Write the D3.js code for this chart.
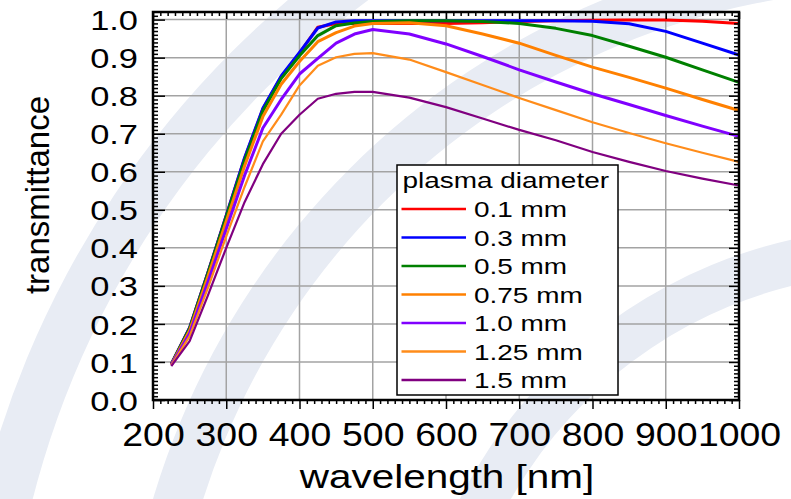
<!DOCTYPE html>
<html>
<head>
<meta charset="utf-8">
<script src="https://cdn.jsdelivr.net/npm/d3@7"></script>
<style>
  body { margin: 0; background: #fff; }
  svg { display: block; font-family: "Liberation Sans", Arial, sans-serif; }
</style>
</head>
<body>
<div id="chart"></div>
<script>
// data
const wavelength = [225, 250, 275, 300, 325, 350, 375, 400, 425, 450, 475, 500, 550, 600, 650, 700, 750, 800, 850, 900, 950, 1000];
const d01  = [0.095, 0.19, 0.335, 0.485, 0.635, 0.765, 0.85, 0.912, 0.98, 0.99, 0.99, 0.99, 0.99, 0.99, 0.992, 0.995, 0.997, 0.998, 0.999, 0.999, 0.996, 0.99];
const d03  = [0.095, 0.19, 0.335, 0.485, 0.637, 0.767, 0.852, 0.914, 0.978, 0.994, 0.997, 0.997, 0.997, 0.997, 0.997, 0.997, 0.997, 0.996, 0.989, 0.969, 0.938, 0.907];
const d05  = [0.094, 0.188, 0.333, 0.482, 0.63, 0.76, 0.845, 0.905, 0.958, 0.984, 0.991, 0.995, 0.997, 0.997, 0.995, 0.99, 0.977, 0.958, 0.93, 0.901, 0.868, 0.835];
const d075 = [0.093, 0.183, 0.325, 0.47, 0.615, 0.745, 0.83, 0.89, 0.942, 0.966, 0.983, 0.99, 0.992, 0.984, 0.962, 0.938, 0.906, 0.875, 0.848, 0.82, 0.79, 0.761];
const d10  = [0.092, 0.175, 0.31, 0.45, 0.59, 0.715, 0.79, 0.857, 0.898, 0.938, 0.962, 0.974, 0.962, 0.936, 0.903, 0.868, 0.836, 0.805, 0.777, 0.748, 0.72, 0.693];
const d125 = [0.091, 0.168, 0.295, 0.43, 0.56, 0.68, 0.75, 0.827, 0.879, 0.901, 0.91, 0.912, 0.895, 0.862, 0.828, 0.794, 0.762, 0.73, 0.702, 0.675, 0.65, 0.626];
const d15  = [0.089, 0.155, 0.275, 0.4, 0.52, 0.62, 0.7, 0.75, 0.792, 0.805, 0.81, 0.81, 0.795, 0.77, 0.74, 0.71, 0.683, 0.652, 0.626, 0.602, 0.582, 0.564];

const seriesNames = ["0.1 mm", "0.3 mm", "0.5 mm", "0.75 mm", "1.0 mm", "1.25 mm", "1.5 mm"];
const seriesData = [d01, d03, d05, d075, d10, d125, d15];
const colors = ["#ff0000", "#0000ff", "#008000", "#ff8000", "#8000ff", "#ff8c1a", "#800080"];
const widths = [3, 3, 3, 3, 3, 2.2, 2.2];

const xTicks = [200, 300, 400, 500, 600, 700, 800, 900, 1000];
const yTicks = [0, 0.1, 0.2, 0.3, 0.4, 0.5, 0.6, 0.7, 0.8, 0.9, 1.0];

const W = 791, H = 499;
const margin = { top: 12, right: 52, bottom: 99, left: 153 };
const width = W - margin.left - margin.right;
const height = H - margin.top - margin.bottom;

const svgRoot = d3.select("#chart").append("svg")
    .attr("width", W)
    .attr("height", H);

// pale watermark arcs behind the chart
const wm = svgRoot.append("g").attr("transform", "translate(900,720)");
[[920, 50], [755, 48], [470, 45]].forEach(([r, w]) => {
    wm.append("path")
        .attr("d", d3.arc().innerRadius(r - w / 2).outerRadius(r + w / 2)
            .startAngle(-Math.PI / 2).endAngle(0)())
        .attr("fill", "#e8ecf4");
});

const svg = svgRoot.append("g")
    .attr("transform", `translate(${margin.left},${margin.top})`);

const x = d3.scaleLinear().domain([200, 1000]).range([0, width]);
const y = d3.scaleLinear().domain([0, 1.02]).range([height, 0]);

// grid
svg.append("g").selectAll("line").data(xTicks).join("line")
    .attr("x1", d => x(d)).attr("x2", d => x(d))
    .attr("y1", 0).attr("y2", height)
    .attr("stroke", "#a3a3a3").attr("stroke-width", 1.5);
svg.append("g").selectAll("line").data(yTicks).join("line")
    .attr("x1", 0).attr("x2", width)
    .attr("y1", d => y(d)).attr("y2", d => y(d))
    .attr("stroke", "#a3a3a3").attr("stroke-width", 1.5);

// curves
const line = d3.line()
    .x((d, i) => x(wavelength[i]))
    .y(d => y(d));

seriesData.forEach((s, k) => {
    svg.append("path")
        .datum(s)
        .attr("d", line)
        .attr("fill", "none")
        .attr("stroke", colors[k])
        .attr("stroke-width", widths[k])
        .attr("stroke-linejoin", "round");
});

// ticks
const xMinor = d3.range(200, 1001, 10).filter(v => v % 100 !== 0);
const yMinor = d3.range(0, 102, 1).map(v => v / 100).filter(v => Math.round(v * 100) % 10 !== 0);

function tickAxis(axis, tr) {
    const g = svg.append("g").attr("transform", tr).call(axis);
    g.select(".domain").remove();
    g.selectAll("line").attr("stroke", "#000").attr("stroke-width", 1.5);
    return g;
}
tickAxis(d3.axisBottom(x).tickValues(xMinor).tickFormat("").tickSizeInner(4).tickSizeOuter(0), `translate(0,${height})`);
tickAxis(d3.axisTop(x).tickValues(xMinor).tickFormat("").tickSizeInner(-4).tickSizeOuter(0), "translate(0,0)");
tickAxis(d3.axisTop(x).tickValues(xTicks).tickFormat("").tickSizeInner(-7).tickSizeOuter(0), "translate(0,0)");
tickAxis(d3.axisLeft(y).tickValues(yMinor).tickFormat("").tickSizeInner(-5).tickSizeOuter(0), "translate(0,0)");
tickAxis(d3.axisLeft(y).tickValues(yTicks).tickFormat("").tickSizeInner(-12).tickSizeOuter(0), "translate(0,0)");
tickAxis(d3.axisRight(y).tickValues(yMinor).tickFormat("").tickSizeInner(-5).tickSizeOuter(0), `translate(${width},0)`);
tickAxis(d3.axisRight(y).tickValues(yTicks).tickFormat("").tickSizeInner(-10).tickSizeOuter(0), `translate(${width},0)`);

// x axis with labels
const xAx = tickAxis(d3.axisBottom(x).tickValues(xTicks).tickFormat(d3.format("d")).tickSizeInner(9).tickSizeOuter(0),
    `translate(0,${height})`);
xAx.selectAll("text")
    .attr("y", 46).attr("dy", null)
    .attr("font-size", 34).attr("fill", "#000")
    .attr("transform", "scale(1.1,1)");

// y axis labels
const yAx = tickAxis(d3.axisLeft(y).tickValues(yTicks).tickFormat(d3.format(".1f")).tickSize(0), "translate(0,0)");
yAx.selectAll("text")
    .attr("x", -15 / 1.23).attr("dy", "0.36em")
    .attr("font-size", 28).attr("fill", "#000")
    .attr("transform", "scale(1.23,1)");

// frame
svg.append("rect")
    .attr("x", 0).attr("y", 0)
    .attr("width", width).attr("height", height)
    .attr("fill", "none").attr("stroke", "#000").attr("stroke-width", 2.5);

// axis titles
svgRoot.append("text")
    .attr("transform", "translate(447,488) scale(1.19,1)")
    .attr("text-anchor", "middle")
    .attr("font-size", 34)
    .text("wavelength [nm]");

svgRoot.append("text")
    .attr("transform", "translate(49,195) rotate(-90)")
    .attr("text-anchor", "middle")
    .attr("font-size", 33)
    .text("transmittance");

// legend
const legend = svgRoot.append("g").attr("transform", "translate(397,165)");
legend.append("rect")
    .attr("width", 221).attr("height", 230)
    .attr("fill", "#fff").attr("stroke", "#000").attr("stroke-width", 1.5);
legend.append("text")
    .attr("transform", "translate(5.5,23) scale(1.3,1)")
    .attr("font-size", 21.5)
    .text("plasma diameter");
const items = legend.selectAll(".item").data(seriesNames).join("g")
    .attr("class", "item")
    .attr("transform", (d, i) => `translate(0,${44 + i * 28.5})`);
items.append("line")
    .attr("x1", 4.5).attr("x2", 69)
    .attr("stroke", (d, i) => colors[i])
    .attr("stroke-width", 2.5);
items.append("text")
    .attr("transform", "translate(77,8.3) scale(1.3,1)")
    .attr("font-size", 21.5)
    .text(d => d);
</script>
</body>
</html>
